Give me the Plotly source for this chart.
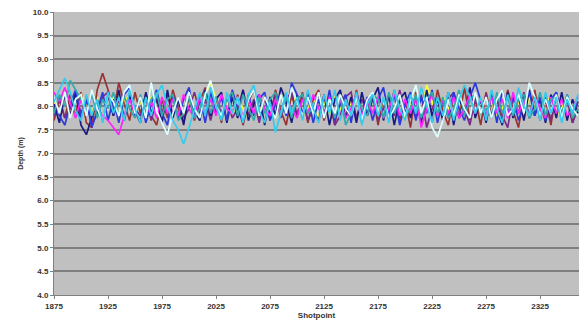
import plotly.graph_objects as go

shotpoints = list(range(1875, 2361, 5))

x_ticks = [1875, 1925, 1975, 2025, 2075, 2125, 2175, 2225, 2275, 2325]
y_ticks = [4.0, 4.5, 5.0, 5.5, 6.0, 6.5, 7.0, 7.5, 8.0, 8.5, 9.0, 9.5, 10.0]

maroon = [7.70, 8.15, 7.75, 8.25, 7.85, 8.30, 7.65, 7.55, 8.35, 8.70,
          8.35, 7.90, 8.50, 8.05, 7.70, 8.30, 7.85, 8.25, 7.80, 7.60,
          8.15, 7.75, 8.35, 7.95, 7.65, 8.25, 7.70, 8.10, 8.40, 7.80,
          8.20, 7.65, 8.30, 7.85, 8.25, 7.60, 8.10, 8.35, 7.75, 8.20,
          7.70, 8.35, 7.90, 7.60, 8.25, 7.80, 8.30, 7.65, 8.15, 8.35,
          7.70, 8.20, 7.60, 8.30, 7.95, 7.75, 8.35, 7.65, 8.15, 8.25,
          7.60, 8.20, 7.80, 8.35, 7.70, 8.15, 7.55, 8.30, 7.85, 8.20,
          7.65, 8.35, 7.90, 7.60, 8.25, 7.75, 8.40, 7.70, 8.15, 7.60,
          8.30, 7.80, 8.20, 7.65, 8.35, 7.90, 7.55, 8.25, 7.75, 8.35,
          7.70, 8.15, 7.60, 8.30, 7.80, 8.20, 7.65, 8.10]

navy = [8.05, 7.65, 8.25, 7.80, 8.30, 7.60, 7.40, 7.75, 8.15, 7.70,
        8.25, 7.80, 8.35, 7.70, 8.20, 7.90, 7.65, 8.30, 7.85, 8.20,
        7.65, 8.35, 7.75, 8.15, 7.60, 8.25, 7.90, 7.70, 8.35, 7.80,
        8.15, 8.30, 7.65, 8.20, 7.75, 8.35, 7.70, 8.05, 8.25, 7.60,
        8.20, 7.80, 8.40, 8.10, 7.65, 8.25, 7.75, 8.30, 7.90, 7.70,
        8.25, 7.60, 8.15, 8.35, 7.75, 8.20, 7.65, 8.30, 7.80, 8.15,
        8.40, 7.70, 8.25, 7.60, 8.15, 8.30, 7.75, 8.20, 7.65, 8.35,
        7.80, 8.15, 7.70, 8.30, 7.60, 8.20, 7.80, 8.40, 7.75, 8.15,
        7.65, 8.25, 7.90, 7.60, 8.30, 7.75, 8.20, 7.70, 8.35, 7.80,
        8.15, 7.65, 8.25, 7.75, 8.30, 7.70, 8.15, 7.85]

blue = [8.20, 7.80, 7.60, 8.05, 8.35, 7.75, 8.15, 7.55, 7.90, 8.30,
        7.70, 8.15, 7.65, 8.25, 8.40, 7.80, 8.20, 7.65, 8.05, 8.35,
        7.85, 7.60, 8.25, 7.75, 8.15, 8.40, 7.80, 8.20, 7.65, 8.30,
        7.85, 8.20, 7.70, 8.35, 7.95, 7.65, 8.25, 7.80, 8.15, 8.30,
        7.70, 8.05, 8.25, 7.80, 8.50, 8.25, 7.85, 8.20, 7.65, 8.15,
        7.75, 8.35, 7.70, 8.05, 8.25, 7.65, 8.30, 7.85, 8.20, 7.70,
        8.15, 8.40, 7.80, 8.25, 7.60, 8.05, 8.30, 7.70, 8.20, 7.85,
        8.35, 7.65, 8.15, 7.75, 8.30, 7.95, 7.70, 8.20, 8.50, 8.10,
        7.75, 8.25, 7.65, 8.35, 7.85, 8.20, 7.70, 8.05, 8.30, 7.80,
        8.20, 7.70, 8.15, 8.30, 7.75, 8.25, 7.85, 8.10]

sky = [8.10, 8.35, 8.60, 8.30, 7.90, 7.70, 8.25, 7.80, 8.15, 7.65,
       8.30, 7.85, 8.20, 7.70, 8.35, 7.95, 7.65, 8.20, 7.80, 8.25,
       8.45, 8.00, 7.70, 7.50, 7.20, 7.55, 7.90, 8.30, 7.80, 8.40,
       8.00, 7.70, 8.30, 7.85, 8.20, 7.65, 8.25, 8.45, 7.90, 7.65,
       8.10, 7.45, 7.85, 8.30, 7.85, 8.20, 7.70, 8.35, 7.95, 7.65,
       8.25, 7.85, 8.35, 7.70, 8.15, 7.80, 8.30, 7.60, 8.05, 8.25,
       7.80, 8.20, 7.65, 8.35, 7.95, 7.70, 8.25, 7.85, 8.40, 8.00,
       7.65, 8.20, 7.80, 8.30, 7.70, 8.15, 8.45, 8.20, 7.85, 8.20,
       7.70, 8.35, 7.95, 7.65, 8.25, 7.85, 8.40, 8.00, 7.80, 8.20,
       7.70, 8.30, 7.85, 8.20, 7.65, 8.15, 7.85, 8.25]

magenta = [8.30, 8.10, 8.40, 8.05, 7.75, 8.15, 7.85, 8.25, 7.95, 7.80,
           7.70, 7.55, 7.40, 7.80, 8.15, 7.85, 8.20, 7.80, 8.10, 7.75,
           8.20, 7.85, 8.15, 7.80, 8.25, 7.95, 7.75, 8.20, 7.85, 8.15,
           7.80, 8.25, 7.95, 7.85, 8.20, 7.75, 8.15, 7.85, 8.25, 7.95,
           7.80, 8.15, 7.85, 8.20, 7.95, 7.75, 8.15, 7.85, 8.25, 7.95,
           7.80, 8.20, 7.85, 8.15, 7.75, 7.95, 8.25, 7.80, 8.15, 7.85,
           8.20, 7.75, 7.95, 8.30, 7.80, 8.15, 7.85, 8.20, 7.55, 7.95,
           8.25, 7.80, 8.15, 7.85, 8.20, 7.75, 7.95, 8.25, 7.85, 8.15,
           7.80, 8.20, 7.85, 8.15, 7.75, 8.30, 7.85, 8.15, 7.80, 8.20,
           7.95, 7.75, 8.20, 7.85, 8.15, 7.80, 7.95, 8.20]

pale = [8.20, 7.85, 8.30, 7.75, 8.15, 8.25, 7.80, 8.35, 7.95, 7.70,
        8.25, 8.10, 7.80, 8.30, 8.45, 7.85, 8.20, 7.75, 8.50, 7.90,
        7.65, 7.40, 7.85, 8.20, 7.85, 8.30, 7.95, 7.75, 8.25, 8.55,
        8.00, 7.80, 8.30, 7.85, 8.20, 7.70, 8.15, 8.35, 7.80, 8.20,
        7.95, 7.75, 8.25, 7.85, 8.40, 8.10, 7.80, 8.20, 7.85, 8.30,
        7.75, 8.15, 7.85, 8.25, 7.95, 7.80, 8.20, 7.70, 8.15, 8.30,
        7.85, 8.20, 7.75, 7.95, 8.25, 7.80, 8.15, 8.45, 7.85, 8.20,
        7.55, 7.35, 7.70, 8.15, 7.80, 8.25, 7.95, 7.75, 8.30, 7.85,
        8.20, 7.75, 8.15, 8.35, 7.80, 7.95, 8.25, 7.85, 8.50, 8.20,
        7.80, 8.15, 7.85, 8.25, 7.75, 8.20, 7.95, 7.80]

teal = [7.85, 8.25, 8.00, 8.55, 8.35, 8.15, 7.85, 8.30, 7.75, 8.15,
        7.95, 8.30, 7.80, 8.20, 7.95, 7.75, 8.25, 7.85, 8.15, 8.30,
        7.80, 8.15, 8.25, 7.70, 7.85, 8.20, 7.75, 7.95, 8.30, 7.85,
        8.20, 7.75, 8.15, 8.30, 7.80, 8.25, 7.95, 7.70, 8.20, 7.85,
        8.15, 8.30, 7.80, 8.20, 7.75, 8.15, 8.25, 7.85, 7.95, 8.30,
        7.80, 8.15, 7.75, 8.25, 7.60, 7.85, 8.20, 7.95, 7.80, 8.25,
        8.15, 7.75, 8.30, 7.85, 8.20, 7.80, 7.95, 8.25, 7.75, 8.15,
        8.30, 7.85, 8.20, 7.75, 7.95, 8.35, 7.80, 8.15, 8.25, 7.85,
        7.95, 7.75, 8.30, 7.85, 8.20, 7.80, 8.15, 8.25, 7.75, 7.95,
        8.30, 7.80, 8.15, 8.20, 7.85, 8.25, 7.75, 7.95]

purple = [7.80, 8.20, 7.75, 7.95, 8.30, 7.85, 8.15, 7.60, 7.85, 8.20,
          8.30, 7.80, 8.15, 7.75, 8.25, 7.95, 7.80, 8.20, 7.70, 8.15,
          7.85, 8.25, 7.80, 8.20, 7.75, 7.95, 8.30, 7.85, 8.15, 7.70,
          8.20, 7.85, 8.25, 7.75, 7.95, 8.35, 7.80, 8.15, 7.65, 8.20,
          7.85, 8.25, 7.75, 8.15, 8.30, 7.80, 8.20, 7.70, 7.95, 8.25,
          7.85, 8.15, 7.60, 7.80, 8.20, 8.30, 7.75, 8.15, 7.85, 8.25,
          7.70, 7.95, 8.20, 7.80, 8.35, 7.85, 8.15, 7.75, 8.25, 7.55,
          7.95, 8.20, 7.80, 8.15, 8.30, 7.75, 7.95, 7.60, 8.20, 7.85,
          8.25, 7.75, 8.15, 7.80, 7.55, 8.20, 7.85, 8.30, 7.75, 8.15,
          7.85, 8.20, 7.70, 8.25, 7.80, 8.15, 7.65, 7.95]

yellow = [8.10, 7.90, 8.20, 7.95, 7.80, 8.25, 8.05, 7.85, 8.20, 7.75,
          7.95, 8.20, 7.85, 8.10, 8.25, 7.80, 8.10, 7.85, 8.20, 7.95,
          7.80, 8.10, 8.25, 7.85, 7.75, 8.10, 8.25, 7.95, 8.25, 8.50,
          8.15, 7.85, 8.10, 7.80, 8.20, 7.95, 7.75, 8.10, 7.85, 8.20,
          7.95, 7.80, 8.25, 7.85, 8.10, 8.20, 7.80, 7.95, 8.20, 7.75,
          8.10, 7.85, 8.20, 7.95, 7.80, 8.10, 8.25, 7.85, 7.95, 8.20,
          7.80, 8.10, 7.85, 8.20, 7.95, 7.75, 8.10, 8.25, 7.85, 8.45,
          8.10, 7.80, 8.20, 7.95, 7.85, 8.10, 7.75, 8.20, 7.95, 7.85,
          8.20, 8.10, 7.80, 7.95, 8.25, 7.85, 8.10, 7.80, 8.20, 7.95,
          7.85, 8.10, 8.20, 7.80, 7.95, 8.20, 7.85, 8.10]

series = [
    ("Line 1", yellow, "#FFFF33"),
    ("Line 2", maroon, "#993333"),
    ("Line 3", purple, "#7A2A8A"),
    ("Line 4", navy, "#1A1A80"),
    ("Line 5", blue, "#2A3AE0"),
    ("Line 6", magenta, "#FF22FF"),
    ("Line 7", teal, "#33AAAA"),
    ("Line 8", pale, "#DDFFFF"),
    ("Line 9", sky, "#33CCEE"),
]

fig = go.Figure()
for name, vals, col in series:
    fig.add_trace(go.Scatter(x=shotpoints[:len(vals)], y=vals, mode="lines",
                             name=name, line=dict(color=col, width=1.7)))

fnt = dict(family="Liberation Sans, Arial", size=8, color="#333333")
fig.update_layout(
    width=579, height=329,
    margin=dict(l=54, r=0, t=12, b=34),
    paper_bgcolor="white", plot_bgcolor="#C0C0C0",
    showlegend=False,
    font=fnt,
    xaxis=dict(range=[1875, 2361], tickvals=x_ticks,
               ticktext=["<b>%d</b>" % v for v in x_ticks], showgrid=False,
               zeroline=False, showline=True, linecolor="#808080", linewidth=1,
               ticks="outside", ticklen=3, tickcolor="#808080",
               tickfont=fnt,
               title=dict(text="<b>Shotpoint</b>", standoff=2, font=fnt)),
    yaxis=dict(range=[4, 10], tickvals=y_ticks,
               ticktext=["<b>%.1f</b>" % v for v in y_ticks], showgrid=True,
               gridcolor="#7F7F7F", gridwidth=1.5, zeroline=False,
               showline=True, linecolor="#808080", linewidth=1,
               ticks="outside", ticklen=3, tickcolor="#808080",
               tickfont=fnt, ticklabeloverflow="allow",
               title=dict(text="<b>Depth (m)</b>", standoff=8,
                          font=dict(family="Liberation Sans, Arial", size=7, color="#333333"))),
)

fig.write_html("out.html", config={"displayModeBar": False},
               post_script="document.body.style.margin='0';")
